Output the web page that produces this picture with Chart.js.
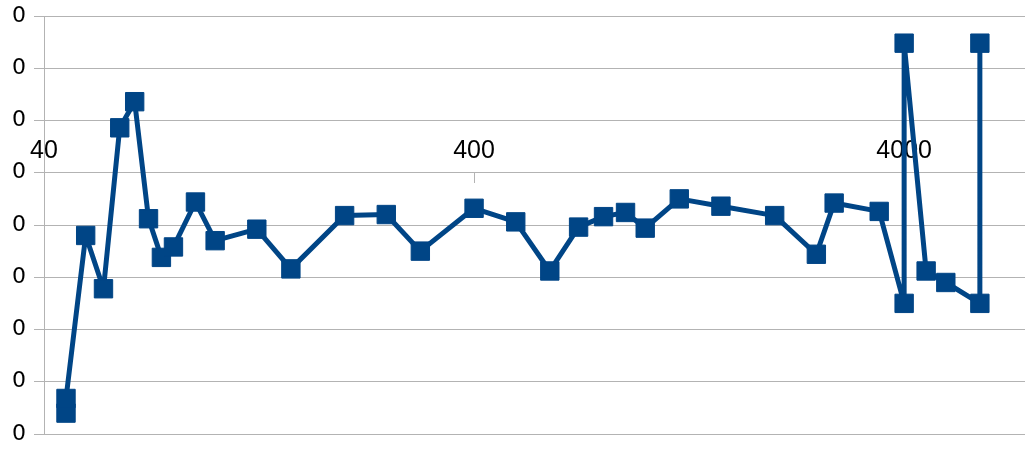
<!DOCTYPE html>
<html>
<head>
<meta charset="utf-8">
<script src="https://cdn.jsdelivr.net/npm/chart.js@4/dist/chart.umd.min.js"></script>
<style>
  html, body { margin: 0; padding: 0; background: #fff; }
</style>
</head>
<body>
<canvas id="chart" width="1025" height="452"></canvas>
<script>
// frekanslar (Hz) ve ölçülen değerler
const freqs = [45, 45, 50, 55, 60, 65, 70, 75, 80, 90, 100, 125, 150, 200, 250, 300,
               400, 500, 600, 700, 800, 900, 1000, 1200, 1500, 2000, 2500, 2750,
               3500, 4000, 4000, 4500, 5000, 6000, 6000];
const values = [-0.230, -0.216, -0.060, -0.111, 0.043, 0.068, -0.044, -0.081, -0.071,
                -0.028, -0.065, -0.054, -0.092, -0.041, -0.040, -0.075,
                -0.034, -0.047, -0.094, -0.052, -0.042, -0.038, -0.053, -0.025,
                -0.032, -0.041, -0.078, -0.029,
                -0.037, -0.125, 0.124, -0.094, -0.105, -0.125, 0.124];

const xTicks = [40, 400, 4000];
const yTicks = [-0.25, -0.2, -0.15, -0.1, -0.05, 0, 0.05, 0.1, 0.15];

const points = freqs.map((f, i) => ({ x: f, y: values[i] }));

const gridColor = '#b3b3b3';
const blue = '#004586';

// eksen kenar boşluklarını sıfırla (çizim alanı tam kenara gelsin)
function noPad(s) {
    s.paddingLeft = 0;
    s.paddingRight = 0;
    s.paddingTop = 0;
    s.paddingBottom = 0;
}

new Chart(document.getElementById('chart').getContext('2d'), {
    type: 'line',
    data: {
        datasets: [{
            data: points,
            borderColor: blue,
            backgroundColor: blue,
            borderWidth: 5,
            borderJoinStyle: 'round',
            tension: 0,
            fill: false,
            pointStyle: 'rect',
            pointRadius: 13,
            pointBorderWidth: 1,
            pointBackgroundColor: blue,
            pointBorderColor: blue
        }]
    },
    options: {
        responsive: false,
        animation: false,
        layout: { autoPadding: false, padding: { top: 16, bottom: 18, left: 0, right: 0 } },
        plugins: { legend: { display: false }, tooltip: { enabled: false } },
        scales: {
            x: {
                type: 'logarithmic',
                position: { y: 0 },
                min: 40,
                max: 7640,
                afterBuildTicks: s => { s.ticks = xTicks.map(v => ({ value: v })); },
                afterFit: noPad,
                ticks: {
                    callback: v => String(v),
                    font: { family: 'Liberation Sans', size: 25 },
                    color: '#000',
                    padding: -47,
                    maxRotation: 0,
                    autoSkip: false
                },
                grid: { drawOnChartArea: false, tickLength: 10, color: gridColor },
                border: { color: gridColor }
            },
            y: {
                min: -0.25,
                max: 0.15,
                afterBuildTicks: s => { s.ticks = yTicks.map(v => ({ value: v })); },
                afterFit: s => { s.width = 44; noPad(s); },
                ticks: {
                    callback: v => String(Math.round(v) + 0),
                    font: { family: 'DejaVu Sans', size: 22 },
                    color: '#000',
                    padding: 8
                },
                grid: { color: gridColor, tickLength: 10 },
                border: { color: gridColor }
            }
        }
    }
});
</script>
</body>
</html>
